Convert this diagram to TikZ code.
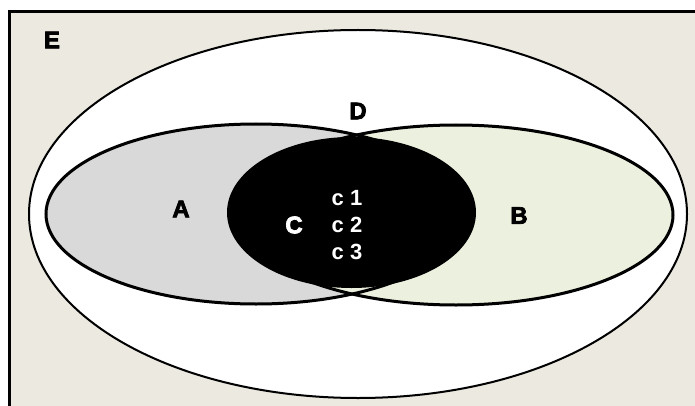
\documentclass[tikz,border=0pt]{standalone}
\usepackage{fontspec}
\setmainfont{Liberation Sans}
\newfontfamily\heavyfont[FakeBold=3]{Liberation Sans Bold}
\usepackage{tikz}
\usetikzlibrary{positioning}
\definecolor{paper}{RGB}{236,233,224}
\definecolor{setgray}{RGB}{217,217,217}
\definecolor{setgreen}{RGB}{235,241,222}
\tikzset{setname/.style={font=\heavyfont\fontsize{18}{18}\selectfont, inner sep=0pt}}
\tikzset{elem/.style={font=\bfseries\fontsize{16.5}{16.5}\selectfont, text=white, inner sep=0pt}}
\newcommand{\elt}[1]{c #1}

\begin{document}
\begin{tikzpicture}[x=0.75pt, y=-0.75pt, node distance=20.25pt]
				\useasboundingbox (0,0) rectangle (695,406);
				\clip (0,0) rectangle (695,406);
				% frame and universe
				\draw[line width=2.25pt, fill=paper]	(9,12) rectangle (720,430);
				\draw[line width=1.5pt, fill=white]		(358,214) ellipse [x radius=329, y radius=184];
				% the two sets
				\fill[setgray]							(256,214) ellipse [x radius=210, y radius=90];
				\fill[setgreen]							(456,215) ellipse [x radius=217, y radius=90];
				\draw[line width=2.25pt]				(256,214) ellipse [x radius=210, y radius=90];
				\draw[line width=2.25pt]				(456,215) ellipse [x radius=217, y radius=90];
				% intersection
				\fill[black]							(351.5,212.5) ellipse [x radius=124.5, y radius=75.5];
				\node[setname] (E)	at (52,40)		{E};
				\node[setname] (D)	at (358,111)	{D};
				\node[setname] (A)	at (181,209)	{A};
				\node[setname] (B)	at (519,215.5)	{B};
				\node[setname, text=white] (C)	at (294,225)	{C};
				\node[elem] (c2)	at (347,225)		{\elt{2}};
				\node[elem] (c1)	[above of=c2]		{\elt{1}};
				\node[elem] (c3)	[below of=c2]		{\elt{3}};
			\end{tikzpicture}
\end{document}
